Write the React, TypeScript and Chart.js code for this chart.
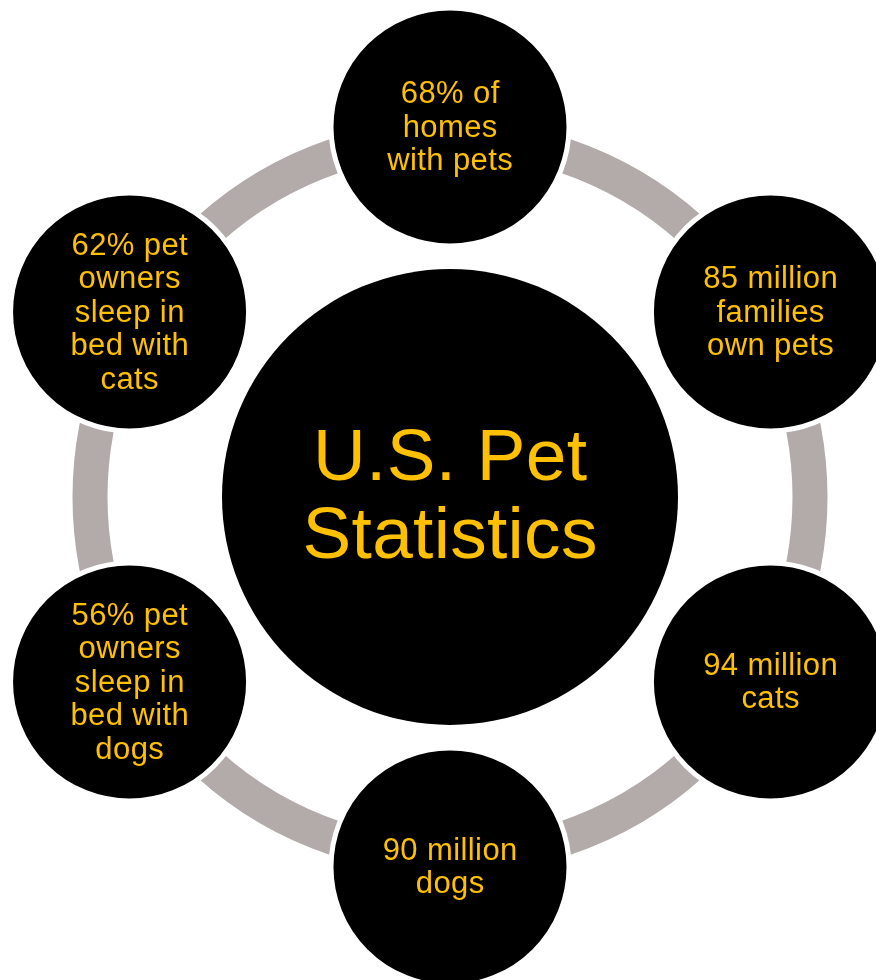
import React, { useEffect, useRef } from "react";
import { Chart, registerables } from "chart.js";

Chart.register(...registerables);

const TITLE_LINES = ["U.S. Pet", "Statistics"];
const ITEM_LINES: string[][] = [
  ["68% of", "homes", "with pets"],
  ["85 million", "families", "own pets"],
  ["94 million", "cats"],
  ["90 million", "dogs"],
  ["56% pet", "owners", "sleep in", "bed with", "dogs"],
  ["62% pet", "owners", "sleep in", "bed with", "cats"],
];

const W = 876;
const H = 980;
const CX = 450;
const CY = 497;
const ORBIT = 370;
const RING_R = 360;
const RING_W = 35;
const OUTER_R = 119;
const CENTER_R = 228;
const GOLD = "#FFC000";
const RING_COLOR = "#B3AAAA";
const FONT = "'Liberation Sans', Arial, Helvetica, sans-serif";

export default function App() {
  const ref = useRef<HTMLCanvasElement>(null);

  useEffect(() => {
    document.body.style.margin = "0";
    const canvas = ref.current!;
    const n = ITEM_LINES.length;
    const outerData = ITEM_LINES.map((_, i) => {
      const a = ((90 - (i * 360) / n) * Math.PI) / 180;
      return { x: ORBIT * Math.cos(a), y: ORBIT * Math.sin(a), r: OUTER_R };
    });

    const ringPlugin = {
      id: "ring",
      beforeDatasetsDraw(chart: any) {
        const { ctx, scales } = chart;
        const px = scales.x.getPixelForValue(0);
        const py = scales.y.getPixelForValue(0);
        const rr = Math.abs(scales.x.getPixelForValue(RING_R) - px);
        ctx.save();
        ctx.beginPath();
        ctx.arc(px, py, rr, 0, Math.PI * 2);
        ctx.strokeStyle = RING_COLOR;
        ctx.lineWidth = RING_W;
        ctx.stroke();
        ctx.restore();
      },
    };

    const textPlugin = {
      id: "labels",
      afterDatasetsDraw(chart: any) {
        const { ctx } = chart;
        ctx.save();
        ctx.fillStyle = GOLD;
        ctx.textAlign = "center";
        ctx.textBaseline = "middle";
        const drawLines = (
          lines: string[],
          x: number,
          y: number,
          size: number,
          lh: number,
          spacing: number
        ) => {
          ctx.font = `${size}px ${FONT}`;
          (ctx as any).letterSpacing = `${spacing}px`;
          lines.forEach((t, i) => {
            ctx.fillText(t, x + spacing / 2, y + (i - (lines.length - 1) / 2) * lh);
          });
        };
        const c = chart.getDatasetMeta(0).data[0];
        drawLines(TITLE_LINES, c.x, c.y + 2, 73, 78, 0.3);
        chart.getDatasetMeta(1).data.forEach((el: any, i: number) => {
          drawLines(ITEM_LINES[i], el.x, el.y + 1, 31, 33.5, 0.4);
        });
        ctx.restore();
      },
    };

    const chart = new Chart(canvas, {
      type: "bubble",
      data: {
        datasets: [
          {
            label: "center",
            data: [{ x: 0, y: 0, r: CENTER_R }],
            backgroundColor: "#000000",
            borderColor: "#FFFFFF",
            borderWidth: 0,
            clip: false as any,
          },
          {
            label: "items",
            data: outerData,
            backgroundColor: "#000000",
            borderColor: "#FFFFFF",
            borderWidth: 5,
            clip: false as any,
          },
        ],
      },
      options: {
        responsive: false,
        animation: false,
        events: [],
        layout: { padding: 0, autoPadding: false },
        plugins: {
          legend: { display: false },
          tooltip: { enabled: false },
        },
        scales: {
          x: { type: "linear", min: -CX, max: W - CX, display: false },
          y: { type: "linear", min: -(H - CY), max: CY, display: false },
        },
      },
      plugins: [ringPlugin, textPlugin],
    });
    return () => chart.destroy();
  }, []);

  return (
    <div style={{ width: W, height: H, background: "#fff" }}>
      <canvas ref={ref} width={W} height={H} style={{ display: "block" }} />
    </div>
  );
}
